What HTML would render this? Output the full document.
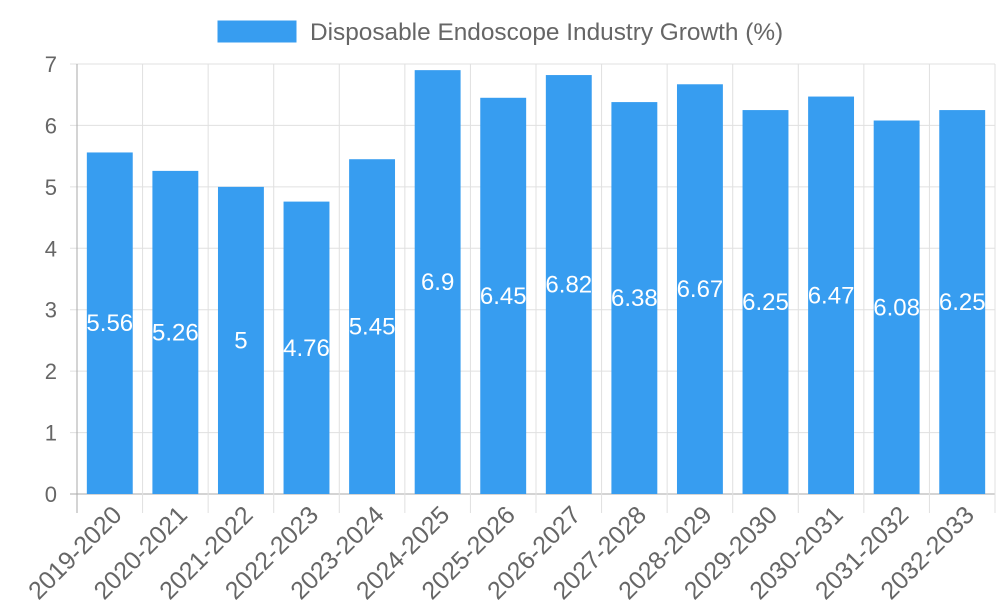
<!DOCTYPE html>
<html><head><meta charset="utf-8"><style>
body{margin:0;background:#fff;font-family:"Liberation Sans",sans-serif}
svg{display:block}
</style></head><body>
<svg id="c" width="1000" height="600" xmlns="http://www.w3.org/2000/svg">
<rect x="217" y="20" width="80" height="23" fill="#379df0" stroke="#fff"/>
<text x="310" y="40" font-size="24.4" fill="#666">Disposable Endoscope Industry Growth (%)</text>
<g id="g"></g>
</svg>
<script>
const categories=["2019-2020","2020-2021","2021-2022","2022-2023","2023-2024","2024-2025","2025-2026","2026-2027","2027-2028","2028-2029","2029-2030","2030-2031","2031-2032","2032-2033"];
const values=[5.56,5.26,5,4.76,5.45,6.9,6.45,6.82,6.38,6.67,6.25,6.47,6.08,6.25];
const yTicks=[0,1,2,3,4,5,6,7];
const L=77,R=995,T=64,B=494,yMax=7;
const slot=(R-L)/categories.length;
const y=v=>B-(v/yMax)*(B-T);
const xc=i=>L+slot*(i+0.5);
const g=document.getElementById('g');
const NS="http://www.w3.org/2000/svg";
function mk(t,a){const e=document.createElementNS(NS,t);for(const k in a)e.setAttribute(k,a[k]);g.appendChild(e);return e;}
yTicks.forEach(t=>{
  const l=mk('line',{x1:L-7,x2:R,y1:y(t),y2:y(t),stroke:t===0?'#aaa':'#e0e0e0','stroke-width':1});
  
  
  const tx=mk('text',{x:L-20,y:y(t)+8,'text-anchor':'end','font-size':22,fill:'#666'});
  tx.textContent=t;
  
  
});
for(let i=0;i<=categories.length;i++){
  const x=L+slot*i;
  const l=mk('line',{x1:x,x2:x,y1:T,y2:B+19,stroke:i===0?'#aaa':'#e0e0e0','stroke-width':1});
  
  
}
categories.forEach((c,i)=>{
  const bw=slot*0.7,v=values[i];
  const r=mk('rect',{x:xc(i)-bw/2,y:y(v),width:bw,height:B-y(v),fill:'#379df0'});
  
  
  const vt=mk('text',{x:xc(i),y:(y(v)+B)/2+8,'text-anchor':'middle','font-size':24,fill:'#fff'});
  vt.textContent=v;
  
  
  const ax=xc(i)+1, ay=504;
  const xt=mk('text',{x:ax,y:ay,'text-anchor':'end','font-size':25,fill:'#666',transform:`rotate(-45 ${ax} ${ay})`,dy:'0.7em'});
  xt.textContent=c;
  
  
});
</script>
</body></html>
